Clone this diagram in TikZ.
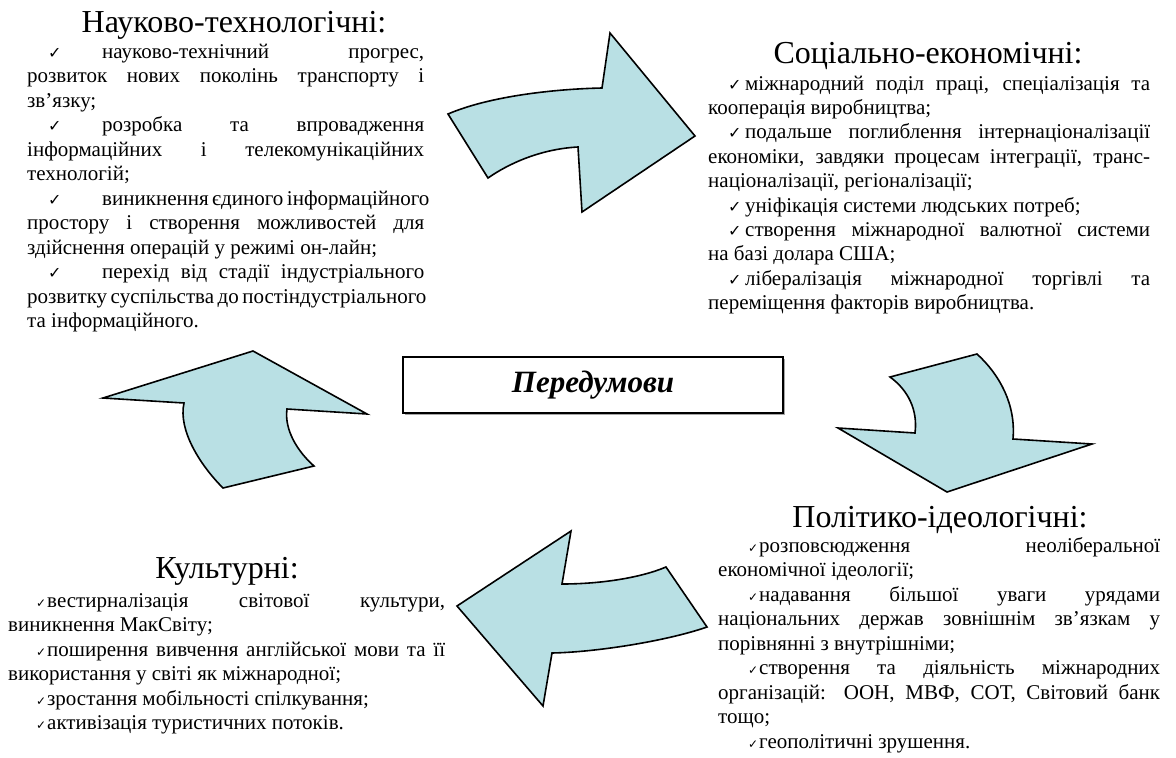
\documentclass[tikz,border=0pt]{standalone}
\usepackage{fontspec}
\setmainfont{Liberation Serif}
\newfontfamily\dejavu{DejaVu Sans}
\definecolor{arrowfill}{RGB}{185,224,228}
\newcommand\chkbig{{\dejavu\fontsize{16}{16}\selectfont ✓}}
\newcommand\chksmall{{\dejavu\fontsize{12}{12}\selectfont ✓}}
\newcommand\myjl[1]{\hbox to\hsize{#1}}
\newcommand\mylast[1]{\hbox to\hsize{#1\hfil}}
\tikzset{
  body/.style={anchor=base west, inner sep=0pt},
  heading/.style={anchor=base, inner sep=0pt, font=\fontsize{32}{36}\selectfont},
  bigarrow/.style={fill=arrowfill, draw=black, line width=1.6pt, line join=miter},
}
\begin{document}
\begin{tikzpicture}[x=1pt,y=-1pt]
\useasboundingbox (0,0) rectangle (1176,758);

% ---------- arrows ----------
% top, pointing right
\draw[bigarrow] (448,114) -- (488,178) .. controls (508,164) and (540,149) .. (578,147)
  -- (582,212) -- (695,136) -- (610,33) -- (602,88)
  .. controls (555,89) and (490,96) .. cycle;
% right, pointing down
\draw[bigarrow] (890,377) -- (977,354) .. controls (1000,375) and (1016,405) .. (1013,439)
  -- (1092,444) -- (947,492) -- (838,428) -- (915,433)
  .. controls (918,410) and (908,390) .. cycle;
% bottom, pointing left
\draw[bigarrow] (457,606) -- (571,531) -- (562,584) .. controls (600,584) and (640,578) .. (666,567)
  -- (707,627) .. controls (670,640) and (600,652) .. (552,653)
  -- (543,706) -- cycle;
% left, pointing up
\draw[bigarrow] (253,351) -- (367,414) -- (287,409) .. controls (284,430) and (298,452) .. (314,466)
  -- (223,488) .. controls (200,465) and (178,430) .. (184,403)
  -- (103,398) -- cycle;

% ---------- centre box ----------
\fill[gray!70] (405,359) rectangle (785,415);
\node[draw=black, fill=white, line width=1.5pt, minimum width=380pt, minimum height=56pt,
      inner sep=0pt, font=\fontsize{31}{34}\selectfont\bfseries\itshape]
      (center) at (593,385) {Передумови};

% ---------- titles ----------
\node[heading] (t1) at (234,32) {Науково-технологічні:};
\node[heading] (t2) at (928,63) {Соціально-економічні:};
\node[heading] (t3) at (940,527) {Політико-ідеологічні:};
\node[heading] (t4) at (227,578) {Культурні:};

% ---------- texts ----------
\node[body] (b1) at (27,58) {\parbox[t]{397pt}{\fontsize{21}{24.5}\selectfont
\myjl{\hskip21pt\makebox[54pt][l]{\chkbig}науково-технічний прогрес,}
\myjl{розвиток нових поколінь транспорту і}
\mylast{зв’язку;}
\myjl{\hskip21pt\makebox[54pt][l]{\chkbig}розробка та впровадження}
\myjl{інформаційних і телекомунікаційних}
\mylast{технологій;}
\myjl{\hskip21pt\makebox[54pt][l]{\chkbig}виникнення єдиного інформаційного}
\myjl{простору і створення можливостей для}
\mylast{здійснення операцій у режимі он-лайн;}
\myjl{\hskip21pt\makebox[54pt][l]{\chkbig}перехід від стадії індустріального}
\myjl{розвитку суспільства до постіндустріального}
\mylast{та інформаційного.}}};

\node[body] (b2) at (708,90) {\parbox[t]{442pt}{\fontsize{21}{24.4}\selectfont
\myjl{\hskip20pt\makebox[17pt][l]{\chkbig}міжнародний поділ праці, спеціалізація та}
\mylast{кооперація виробництва;}
\myjl{\hskip20pt\makebox[17pt][l]{\chkbig}подальше поглиблення інтернаціоналізації}
\myjl{економіки, завдяки процесам інтеграції, транс-}
\mylast{націоналізації, регіоналізації;}
\mylast{\hskip20pt\makebox[17pt][l]{\chkbig}уніфікація системи людських потреб;}
\myjl{\hskip20pt\makebox[17pt][l]{\chkbig}створення міжнародної валютної системи}
\mylast{на базі долара США;}
\myjl{\hskip20pt\makebox[17pt][l]{\chkbig}лібералізація міжнародної торгівлі та}
\mylast{переміщення факторів виробництва.}}};

\node[body] (b3) at (718,552) {\parbox[t]{442pt}{\fontsize{21}{24.5}\selectfont
\myjl{\hskip30pt\makebox[11pt][l]{\chksmall}розповсюдження неоліберальної}
\mylast{економічної ідеології;}
\myjl{\hskip30pt\makebox[11pt][l]{\chksmall}надавання більшої уваги урядами}
\myjl{національних держав зовнішнім зв’язкам у}
\mylast{порівнянні з внутрішніми;}
\myjl{\hskip30pt\makebox[11pt][l]{\chksmall}створення та діяльність міжнародних}
\myjl{організацій: ООН, МВФ, СОТ, Світовий банк}
\mylast{тощо;}
\mylast{\hskip30pt\makebox[11pt][l]{\chksmall}геополітичні зрушення.}}};

\node[body] (b4) at (8,607) {\parbox[t]{437pt}{\fontsize{21}{24.5}\selectfont
\myjl{\hskip28pt\makebox[11pt][l]{\chksmall}вестирналізація світової культури,}
\mylast{виникнення МакСвіту;}
\myjl{\hskip28pt\makebox[11pt][l]{\chksmall}поширення вивчення англійської мови та її}
\mylast{використання у світі як міжнародної;}
\mylast{\hskip28pt\makebox[11pt][l]{\chksmall}зростання мобільності спілкування;}
\mylast{\hskip28pt\makebox[11pt][l]{\chksmall}активізація туристичних потоків.}}};
\end{tikzpicture}
\end{document}
